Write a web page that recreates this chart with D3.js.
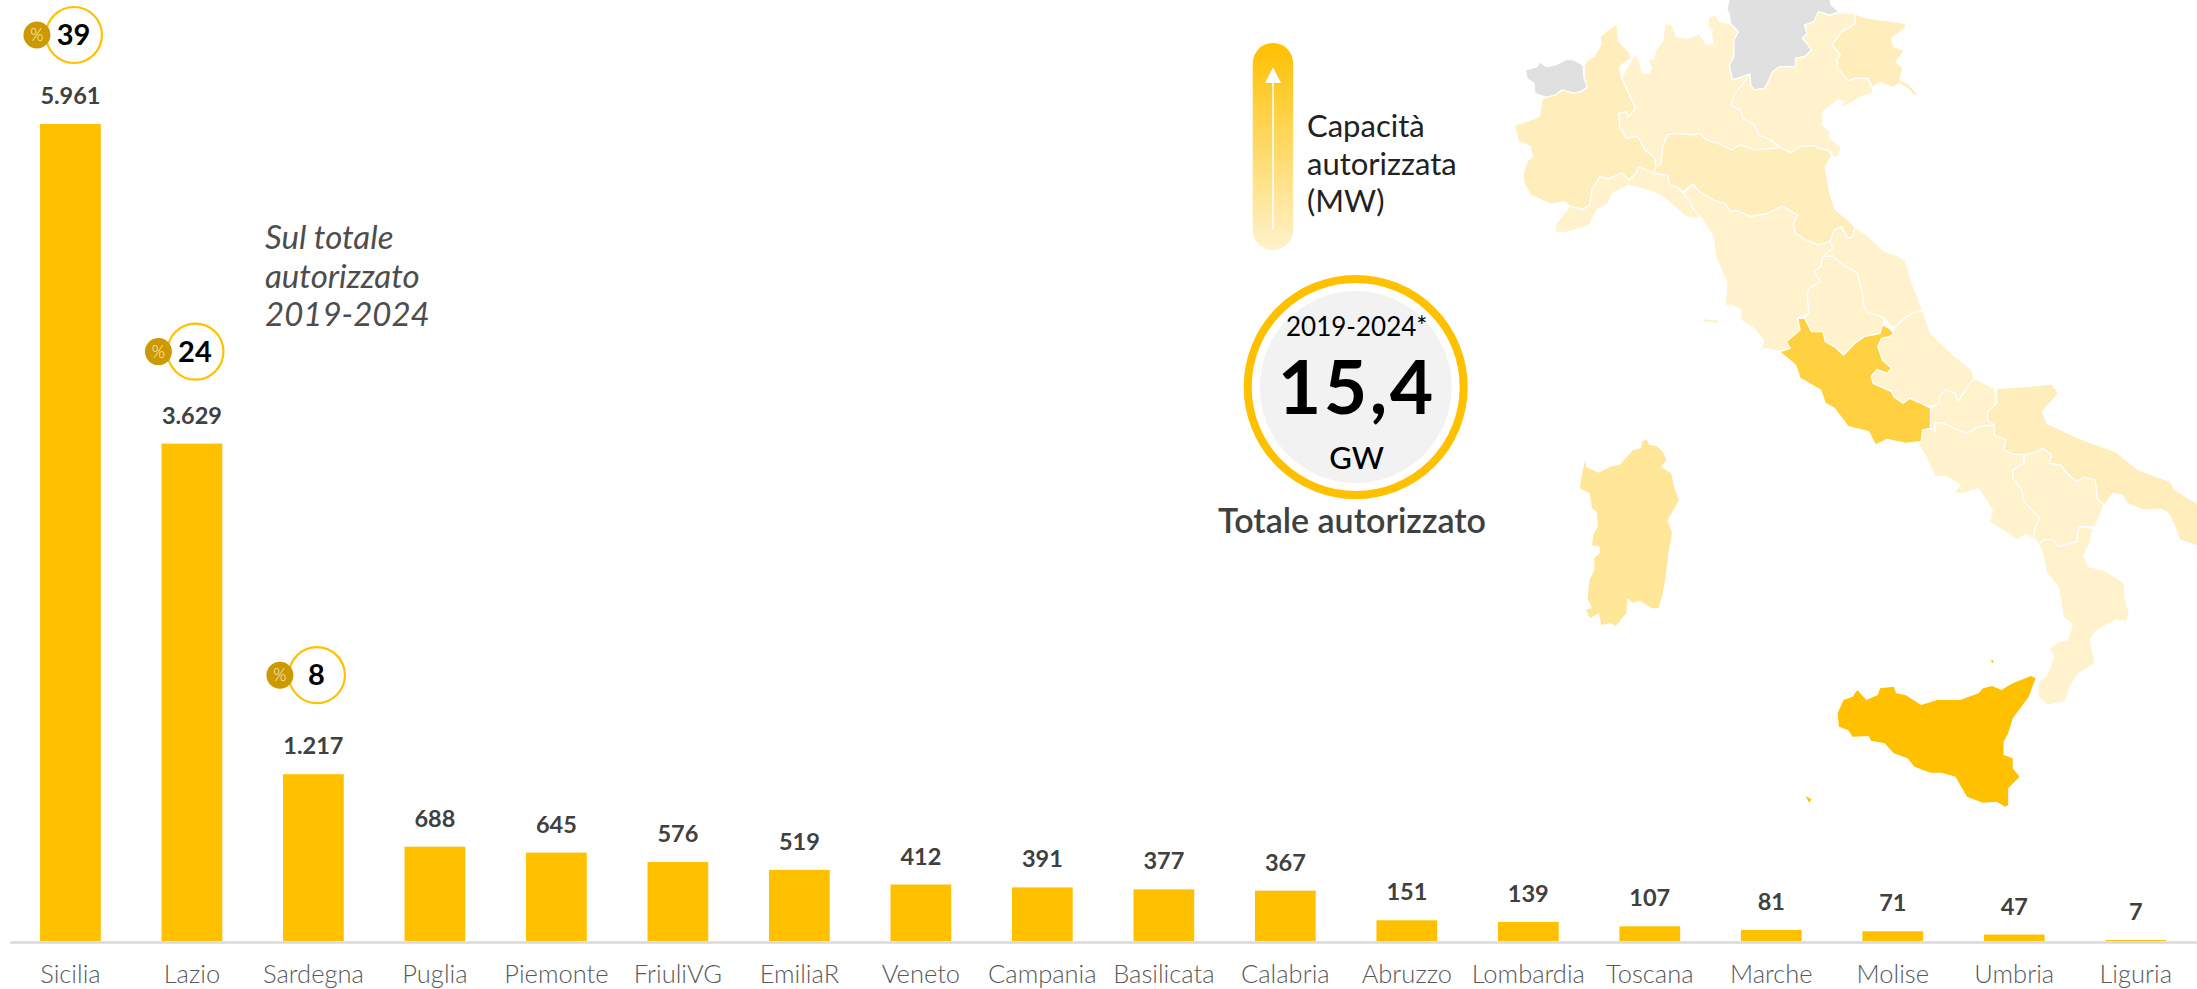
<!DOCTYPE html>
<html><head><meta charset="utf-8">
<script src="https://cdn.jsdelivr.net/npm/d3@7"></script>
<style>
html,body{margin:0;padding:0;background:#fff;overflow:hidden}
svg{display:block}
text{font-family:Lato,"Noto Sans",sans-serif}
</style></head><body><svg id="c" width="2197" height="989"></svg>
<script>
const categories=["Sicilia","Lazio","Sardegna","Puglia","Piemonte","FriuliVG","EmiliaR","Veneto","Campania","Basilicata","Calabria","Abruzzo","Lombardia","Toscana","Marche","Molise","Umbria","Liguria"];
const values=[5961,3629,1217,688,645,576,519,412,391,377,367,151,139,107,81,71,47,7];
const shares=[39,24,8];
const legendTitle=["Capacità","autorizzata","(MW)"];
const noteLines=["Sul totale","autorizzato","2019-2024"];
// region outlines, in trace units
const regions=[
{n:"Valle d'Aosta",v:null,p:[[[100,210],[125,200],[130,185],[145,200],[165,195],[190,178],[205,180],[225,195],[228,235],[235,262],[220,275],[205,280],[180,270],[165,285],[145,292],[130,285],[120,280],[118,250],[102,235]]]},
{n:"Trentino",v:null,p:[[[545,-5],[765,-5],[768,15],[785,35],[765,45],[740,35],[730,65],[710,75],[715,100],[705,115],[715,130],[725,150],[710,170],[690,175],[690,200],[675,200],[655,200],[640,215],[630,245],[622,265],[600,270],[592,255],[590,222],[570,232],[552,240],[545,195],[555,170],[555,120],[565,95],[548,70],[545,40],[540,30]]]},
{n:"FriuliVG",v:576,p:[[[820,42],[840,52],[875,60],[930,70],[930,85],[915,100],[900,115],[905,140],[928,152],[910,185],[925,205],[918,240],[940,255],[955,280],[950,290],[935,265],[915,250],[905,262],[875,248],[858,262],[848,235],[820,235],[805,243],[795,225],[782,205],[780,180],[788,165],[770,135],[790,95],[805,85],[820,70]]]},
{n:"Veneto",v:412,p:[[[740,35],[765,47],[785,37],[820,42],[820,70],[805,85],[790,95],[770,135],[788,165],[780,180],[782,205],[795,225],[805,243],[820,235],[848,235],[858,262],[860,280],[835,290],[790,325],[795,305],[785,298],[750,335],[750,375],[765,395],[765,415],[790,440],[785,465],[775,475],[765,452],[740,445],[730,437],[700,440],[680,458],[655,442],[635,420],[610,405],[600,375],[575,355],[570,330],[550,318],[555,285],[575,250],[590,222],[592,255],[600,270],[622,265],[630,245],[640,215],[655,200],[690,200],[690,175],[710,170],[725,150],[715,130],[705,115],[715,100],[710,75],[730,65]]]},
{n:"Lombardia",v:139,p:[[[500,50],[515,45],[525,65],[545,70],[565,95],[555,120],[555,170],[545,195],[552,240],[570,232],[590,222],[575,250],[555,285],[550,318],[570,330],[575,355],[600,375],[610,405],[635,420],[655,442],[640,445],[600,450],[570,435],[550,450],[520,430],[495,420],[480,400],[465,405],[430,400],[410,405],[400,440],[395,495],[385,498],[380,470],[360,450],[345,410],[320,415],[305,380],[303,340],[320,335],[325,350],[340,325],[325,280],[310,235],[320,205],[340,160],[350,190],[355,220],[370,220],[375,205],[368,180],[380,175],[385,150],[400,120],[405,70],[420,75],[430,110],[455,115],[480,100],[495,135],[510,130],[505,100],[510,90],[498,80]]]},
{n:"Piemonte",v:645,p:[[[300,72],[303,125],[325,155],[330,175],[305,200],[310,235],[325,280],[340,325],[325,350],[320,335],[303,340],[305,380],[320,415],[345,410],[360,450],[380,470],[385,498],[380,520],[365,510],[345,500],[342,520],[325,540],[310,518],[280,538],[262,530],[245,570],[240,615],[225,628],[195,618],[185,605],[155,612],[110,585],[95,545],[95,515],[105,480],[115,470],[110,440],[85,425],[75,375],[100,365],[130,350],[135,300],[145,292],[165,285],[180,270],[205,280],[220,275],[235,262],[228,235],[228,195],[235,180],[250,170],[265,130],[262,110],[285,85]]]},
{n:"Liguria",v:7,p:[[[380,520],[410,525],[415,555],[430,560],[445,580],[460,605],[465,625],[485,650],[470,655],[450,650],[430,625],[400,590],[375,575],[325,555],[290,580],[280,610],[255,630],[240,675],[185,700],[165,695],[165,675],[190,630],[195,618],[225,628],[240,615],[245,570],[262,530],[280,538],[310,518],[325,540],[342,520],[345,500],[365,510]]]},
{n:"EmiliaR",v:519,p:[[[410,405],[430,400],[465,405],[480,400],[495,420],[520,430],[550,450],[570,435],[600,450],[640,445],[655,442],[680,458],[700,440],[730,437],[740,445],[765,452],[768,470],[755,500],[765,580],[775,625],[820,680],[815,710],[805,715],[790,680],[775,690],[765,725],[740,735],[710,718],[690,700],[685,670],[695,645],[660,618],[630,640],[590,650],[565,632],[548,635],[535,610],[510,600],[480,575],[465,552],[445,575],[430,560],[415,555],[410,525],[380,520],[385,498],[395,495],[400,440]]]},
{n:"Toscana",v:107,p:[[[445,580],[465,552],[480,575],[510,600],[535,610],[548,635],[565,632],[590,650],[630,640],[660,618],[695,645],[685,670],[690,700],[710,718],[740,735],[765,725],[772,745],[750,770],[745,800],[730,815],[745,845],[720,865],[715,885],[720,940],[695,955],[700,990],[670,1025],[678,1045],[655,1055],[625,1045],[615,1055],[620,1020],[600,985],[570,960],[572,930],[550,915],[535,920],[540,850],[525,800],[515,770],[510,710],[485,655],[465,625],[460,605]],[[487,955],[520,960],[525,945],[522,970],[490,968]]]},
{n:"Marche",v:81,p:[[[820,680],[850,710],[885,755],[915,768],[930,780],[945,850],[960,900],[968,932],[945,940],[925,958],[905,985],[885,958],[870,945],[850,940],[840,920],[835,870],[825,820],[795,795],[770,768],[750,770],[772,745],[765,725],[775,690],[790,680],[805,715],[815,710]]]},
{n:"Umbria",v:47,p:[[[750,770],[770,768],[795,795],[825,820],[835,870],[840,920],[850,940],[870,945],[885,958],[880,975],[875,1000],[840,1010],[820,1030],[795,1065],[775,1040],[755,1025],[750,995],[725,995],[700,960],[720,940],[715,885],[720,865],[745,845],[730,815],[745,800]]]},
{n:"Abruzzo",v:151,p:[[[968,932],[985,1000],[1035,1065],[1075,1110],[1080,1135],[1045,1205],[1040,1180],[1018,1170],[1005,1190],[1005,1210],[985,1220],[965,1210],[940,1195],[925,1210],[905,1190],[900,1175],[860,1150],[855,1130],[868,1108],[890,1120],[900,1105],[880,1080],[870,1040],[878,1015],[895,1010],[905,985],[925,958],[945,940]]]},
{n:"Molise",v:71,p:[[[1080,1135],[1125,1165],[1130,1210],[1110,1235],[1110,1260],[1125,1275],[1090,1280],[1065,1300],[1045,1290],[1010,1268],[995,1270],[995,1295],[985,1285],[985,1225],[1005,1210],[1005,1190],[1018,1170],[1040,1180],[1045,1205]]]},
{n:"Lazio",v:3629,p:[[[655,1055],[678,1045],[670,1025],[700,990],[695,955],[710,955],[725,995],[750,995],[755,1025],[775,1040],[795,1065],[820,1030],[840,1010],[875,1000],[880,975],[895,985],[905,1000],[895,1010],[878,1015],[870,1040],[880,1080],[900,1105],[890,1120],[868,1108],[855,1130],[860,1150],[900,1175],[905,1190],[925,1210],[940,1195],[965,1210],[985,1225],[985,1285],[968,1290],[965,1325],[930,1330],[890,1318],[865,1335],[850,1295],[805,1280],[775,1225],[755,1210],[745,1170],[700,1135],[690,1095]]]},
{n:"Campania",v:391,p:[[[985,1285],[995,1295],[995,1270],[1010,1268],[1045,1290],[1065,1300],[1090,1280],[1125,1275],[1125,1305],[1150,1320],[1145,1350],[1165,1362],[1190,1365],[1190,1390],[1165,1410],[1165,1435],[1185,1470],[1190,1505],[1225,1555],[1215,1580],[1210,1610],[1222,1635],[1195,1602],[1175,1620],[1160,1605],[1135,1585],[1115,1565],[1120,1530],[1090,1465],[1060,1480],[1035,1480],[1050,1455],[1020,1430],[995,1430],[975,1370],[958,1335],[965,1325],[968,1290]],[[970,1450],[980,1455],[975,1460]]]},
{n:"Puglia",v:688,p:[[[1130,1165],[1190,1160],[1250,1152],[1265,1180],[1230,1235],[1240,1270],[1310,1315],[1390,1355],[1440,1410],[1510,1445],[1520,1470],[1575,1515],[1575,1640],[1530,1620],[1520,1580],[1505,1540],[1490,1528],[1450,1530],[1415,1510],[1405,1485],[1385,1480],[1365,1515],[1350,1495],[1345,1440],[1320,1432],[1305,1445],[1280,1415],[1270,1395],[1245,1390],[1250,1365],[1230,1345],[1220,1355],[1190,1365],[1165,1362],[1145,1350],[1150,1320],[1125,1305],[1125,1275],[1110,1260],[1110,1235],[1130,1210]]]},
{n:"Basilicata",v:377,p:[[[1190,1365],[1220,1355],[1230,1345],[1250,1365],[1245,1390],[1270,1395],[1280,1415],[1305,1445],[1320,1432],[1345,1440],[1350,1495],[1365,1515],[1345,1580],[1310,1580],[1305,1625],[1265,1640],[1255,1620],[1230,1620],[1222,1635],[1210,1610],[1215,1580],[1225,1555],[1190,1505],[1185,1470],[1165,1435],[1165,1410],[1190,1390]]]},
{n:"Calabria",v:367,p:[[[1222,1635],[1230,1620],[1255,1620],[1265,1640],[1305,1625],[1310,1580],[1340,1585],[1335,1625],[1320,1665],[1330,1700],[1365,1710],[1410,1750],[1410,1790],[1420,1840],[1415,1865],[1390,1860],[1345,1895],[1335,1920],[1345,1990],[1310,2020],[1290,2060],[1280,2105],[1240,2115],[1220,2090],[1222,2045],[1240,2025],[1255,1970],[1245,1945],[1265,1925],[1285,1920],[1295,1875],[1275,1850],[1265,1760],[1240,1720],[1230,1660]]]},
{n:"Sardegna",v:1217,p:[[[355,1323],[365,1320],[370,1335],[385,1337],[400,1355],[408,1380],[395,1400],[418,1420],[425,1465],[435,1500],[410,1560],[420,1600],[412,1660],[405,1740],[398,1790],[390,1825],[375,1825],[350,1802],[335,1808],[322,1795],[320,1840],[297,1878],[285,1870],[265,1875],[260,1840],[240,1855],[232,1828],[245,1825],[235,1795],[240,1740],[250,1710],[250,1675],[262,1660],[262,1640],[245,1635],[248,1602],[258,1580],[255,1535],[245,1525],[240,1480],[218,1465],[225,1410],[230,1380],[232,1402],[260,1418],[285,1400],[305,1395],[335,1350],[352,1345]]]},
{n:"Sicilia",v:5961,p:[[[825,2070],[845,2100],[870,2085],[875,2065],[905,2060],[910,2080],[930,2085],[965,2115],[1000,2100],[1050,2100],[1090,2080],[1100,2065],[1120,2058],[1140,2070],[1165,2050],[1205,2028],[1215,2035],[1200,2090],[1165,2155],[1155,2200],[1145,2225],[1145,2265],[1165,2275],[1165,2305],[1180,2330],[1155,2365],[1155,2415],[1148,2420],[1130,2405],[1100,2408],[1065,2390],[1040,2330],[1010,2318],[985,2318],[950,2300],[935,2275],[905,2260],[885,2230],[855,2222],[850,2208],[815,2210],[805,2190],[785,2180],[782,2140],[795,2100],[815,2090]],[[712,2388],[725,2398],[720,2408]],[[1117,1980],[1124,1982],[1120,1990]]]}
];

const W=2197,H=989,svg=d3.select("#c").attr("viewBox",[0,0,W,H]);
const gold="#FFC000",ink="#404040";
const x=d3.scaleBand().domain(categories).range([9.7,W-0.5]).paddingInner(0.5).paddingOuter(0.25);
const y=d3.scaleLinear().domain([0,5961]).range([941,124]);
const itFmt=d3.formatLocale({decimal:",",thousands:".",grouping:[3],currency:["","€"]}).format(",d");

// map
const mapX=d3.scaleLinear().domain([0,1568]).range([1480,W]);
const mapY=d3.scaleLinear().domain([0,3]).range([0,1]);
const ring=d3.line().x(d=>mapX(d[0])).y(d=>mapY(d[1])).curve(d3.curveLinearClosed);
const shade=v=>{
  if(v==null) return "#E0E0E0";
  if(v>=5000) return "#FFC000";
  if(v>=3000) return "#FFD140";
  if(v>=1000) return "#FFE699";
  if(v>=500) return "#FFEDBC";
  return "#FFF2CC";
};
svg.append("g").selectAll("path").data(regions).join("path")
  .attr("d",r=>r.p.map(ring).join(""))
  .attr("fill",r=>shade(r.v))
  .attr("stroke",r=>(r.n==="Sicilia"||r.n==="Sardegna")?"none":"#fff")
  .attr("stroke-width",1.2).attr("stroke-linejoin","round");

// bars
svg.append("g").selectAll("rect").data(values).join("rect")
  .attr("x",(d,i)=>x(categories[i])).attr("width",x.bandwidth())
  .attr("y",d=>y(d)).attr("height",d=>y(0)-y(d)).attr("fill",gold);

// axis
const ax=svg.append("g").attr("transform",`translate(0,${y(0)+1})`)
  .call(d3.axisBottom(x).tickSize(0).tickPadding(23));
ax.select(".domain").attr("stroke","#D9D9D9").attr("stroke-width",2.5);
ax.selectAll("text").attr("font-size",25.5).attr("font-weight",300).attr("fill","#595959").style("font-family","Lato");

// value labels
svg.append("g").selectAll("text").data(values).join("text")
  .attr("x",(d,i)=>x(categories[i])+x.bandwidth()/2)
  .attr("y",d=>y(d)-20).attr("text-anchor","middle")
  .attr("font-size",23.5).attr("font-weight",700).attr("fill",ink).text(d=>itFmt(d));

// share badges
const badgeLift=[89,92,99];
const bc=i=>x(categories[i])+x.bandwidth()/2;
const b=svg.append("g").selectAll("g").data(shares).join("g")
  .attr("transform",(d,i)=>`translate(${bc(i)},${y(values[i])-badgeLift[i]})`);
b.append("circle").attr("cx",3.5).attr("r",28).attr("fill","#fff").attr("stroke",gold).attr("stroke-width",2.2);
b.append("circle").attr("cx",-33.5).attr("r",13.5).attr("fill","#CC9900");
b.append("text").attr("x",-33.5).attr("y",6).attr("text-anchor","middle").attr("font-size",17).attr("font-weight",300).attr("fill","#FFF2CC").text("%");
b.append("text").attr("x",3).attr("y",10).attr("text-anchor","middle").attr("font-size",29).attr("font-weight",700).attr("fill","#000").text(d=>d);

// note
svg.append("g").selectAll("text").data(noteLines).join("text")
  .attr("x",265).attr("y",(d,i)=>249+i*38.5).attr("font-size",33).attr("font-weight",400).attr("font-style","italic").attr("fill","#4d4d4d").text(d=>d);

// gradient legend
const defs=svg.append("defs");
const g=defs.append("linearGradient").attr("id","lg").attr("x1",0).attr("x2",0).attr("y1",0).attr("y2",1);
g.append("stop").attr("offset","0%").attr("stop-color","#FFC000");
g.append("stop").attr("offset","100%").attr("stop-color","#FFF2CC");
svg.append("rect").attr("x",1252.7).attr("y",43).attr("width",40.5).attr("height",207).attr("rx",20.2).attr("fill","url(#lg)");
svg.append("line").attr("x1",1273).attr("x2",1273).attr("y1",229.5).attr("y2",80).attr("stroke","#fff").attr("stroke-width",1.6);
svg.append("path").attr("d",d3.line()([[1273,67.5],[1281,83],[1265,83]])+"Z").attr("fill","#fff");
svg.append("g").selectAll("text").data(legendTitle).join("text")
  .attr("x",1307).attr("y",(d,i)=>137+i*37.7).attr("font-size",31).attr("font-weight",400).attr("fill","#222").text(d=>d);

// total badge
const t=svg.append("g").attr("transform","translate(1355.7,387)");
t.append("circle").attr("r",96).attr("fill","#F2F2F2");
t.append("circle").attr("r",108).attr("fill","none").attr("stroke",gold).attr("stroke-width",8);
t.append("text").attr("x",1).attr("y",-51).attr("text-anchor","middle").attr("font-size",26).attr("font-weight",400).attr("fill","#000").text("2019-2024*");
t.append("text").attr("x",1).attr("y",27).attr("text-anchor","middle").attr("font-size",75).attr("font-weight",700).attr("letter-spacing",2.5).attr("fill","#000").text("15,4");
t.append("text").attr("x",1).attr("y",82).attr("text-anchor","middle").attr("font-size",31).attr("font-weight",500).attr("fill","#000").text("GW");
svg.append("text").attr("x",1352).attr("y",533).attr("text-anchor","middle").attr("font-size",34).attr("font-weight",600).attr("fill",ink).text("Totale autorizzato");
</script></body></html>
